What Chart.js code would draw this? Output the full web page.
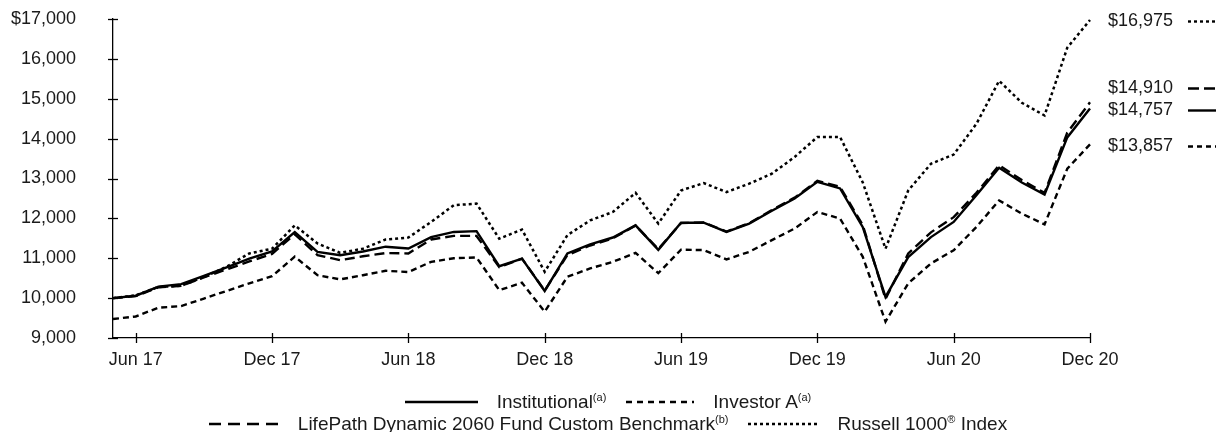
<!DOCTYPE html>
<html>
<head>
<meta charset="utf-8">
<script src="https://cdn.jsdelivr.net/npm/chart.js@4.4.1/dist/chart.umd.min.js"></script>
<style>
  html, body { margin: 0; padding: 0; background: #fff; }
  #wrap { position: relative; width: 1216px; height: 432px; overflow: hidden; }
  #c { position: absolute; left: 0; top: 0; }
  .legend { position: absolute; left: 0; width: 1216px; font-family: "Liberation Sans", Arial, sans-serif; font-size: 19px; color: #1a1a1a; }
  .row { display: flex; justify-content: center; align-items: center; height: 22px; white-space: nowrap; }
  .item { display: flex; align-items: center; }
  .item svg { margin-right: 19px; }
  .item + .item { margin-left: 20px; }
  sup { font-size: 11px; vertical-align: 7px; line-height: 0; }
</style>
</head>
<body>
<div id="wrap">
  <canvas id="c" width="1216" height="432"></canvas>
  <div class="legend" style="top:391px;">
    <div class="row">
      <div class="item"><svg width="73" height="6"><line x1="0" y1="3" x2="73" y2="3" stroke="#000" stroke-width="2.4"/></svg><span>Institutional<sup>(a)</sup></span></div>
      <div class="item"><svg width="68" height="6"><line x1="0" y1="3" x2="68" y2="3" stroke="#000" stroke-width="2.4" stroke-dasharray="6,5"/></svg><span>Investor A<sup>(a)</sup></span></div>
    </div>
    <div class="row">
      <div class="item"><svg width="70" height="6"><line x1="0" y1="3" x2="70" y2="3" stroke="#000" stroke-width="2.4" stroke-dasharray="12,7"/></svg><span>LifePath Dynamic 2060 Fund Custom Benchmark<sup>(b)</sup></span></div>
      <div class="item"><svg width="70" height="6"><line x1="0" y1="3" x2="70" y2="3" stroke="#000" stroke-width="2.4" stroke-dasharray="3,3"/></svg><span>Russell 1000<sup>®</sup> Index</span></div>
    </div>
  </div>
</div>
<script>
const months = ['May 17','Jun 17','Jul 17','Aug 17','Sep 17','Oct 17','Nov 17','Dec 17',
  'Jan 18','Feb 18','Mar 18','Apr 18','May 18','Jun 18','Jul 18','Aug 18','Sep 18','Oct 18','Nov 18','Dec 18',
  'Jan 19','Feb 19','Mar 19','Apr 19','May 19','Jun 19','Jul 19','Aug 19','Sep 19','Oct 19','Nov 19','Dec 19',
  'Jan 20','Feb 20','Mar 20','Apr 20','May 20','Jun 20','Jul 20','Aug 20','Sep 20','Oct 20','Nov 20','Dec 20'];

const institutional = [10000,10060,10290,10350,10560,10770,10990,11170,
  11658,11160,11075,11170,11290,11245,11530,11660,11680,10800,10990,10180,
  11120,11350,11520,11825,11210,11890,11890,11660,11870,12190,12500,12915,
  12750,11780,10030,11030,11530,11910,12580,13270,12900,12600,14030,14757];

const investorA = [9475,9540,9760,9800,9990,10180,10370,10550,
  11040,10575,10470,10575,10685,10655,10910,11000,11020,10200,10385,9660,
  10535,10745,10910,11135,10625,11215,11205,10970,11160,11455,11745,12160,
  11995,11035,9410,10370,10870,11200,11785,12450,12120,11850,13245,13857];

const benchmark = [10000,10050,10270,10310,10520,10720,10920,11110,
  11600,11080,10950,11050,11130,11120,11470,11560,11560,10780,10990,10190,
  11080,11320,11500,11820,11230,11880,11900,11670,11880,12210,12520,12940,
  12790,11830,9980,11120,11650,12030,12640,13330,12960,12640,14150,14910];

const russell = [10000,10070,10280,10310,10530,10790,11120,11240,
  11825,11370,11135,11240,11470,11520,11910,12330,12370,11490,11720,10660,
  11580,11950,12160,12640,11870,12700,12885,12660,12870,13120,13540,14040,
  14040,12900,11240,12700,13370,13600,14370,15450,14900,14580,16280,16975];

const yTicks = [9000,10000,11000,12000,13000,14000,15000,16000,17000];
const xTickMonths = ['Jun','Dec'];

const FONT = '"Liberation Sans", Arial, sans-serif';
const INK = '#1a1a1a';

const isShownTick = (lab) => xTickMonths.includes(lab.split(' ')[0]);

const tickMarks = {
  id: 'tickMarks',
  afterDraw(chart) {
    const ctx = chart.ctx, xs = chart.scales.x, ys = chart.scales.y;
    const L = chart.chartArea.left, B = chart.chartArea.bottom;
    ctx.save();
    ctx.strokeStyle = '#000';
    ctx.lineWidth = 1.3;
    ys.ticks.forEach((t, i) => {
      const py = Math.round(ys.getPixelForTick(i)) + 0.5;
      ctx.beginPath(); ctx.moveTo(L - 5, py); ctx.lineTo(L + 5, py); ctx.stroke();
    });
    months.forEach((m, i) => {
      if (!isShownTick(m)) return;
      const px = Math.round(xs.getPixelForValue(i)) + 0.5;
      ctx.beginPath(); ctx.moveTo(px, B - 5); ctx.lineTo(px, B + 5); ctx.stroke();
    });
    ctx.restore();
  }
};

const endLabels = {
  id: 'endLabels',
  afterDraw(chart) {
    const ctx = chart.ctx, ys = chart.scales.y;
    const items = chart.data.datasets.map(ds => {
      const v = ds.data[ds.data.length - 1];
      return { text: '$' + v.toLocaleString('en-US'), py: ys.getPixelForValue(v) + 1.5, dash: ds.sampleDash };
    }).sort((a, b) => a.py - b.py);
    for (let i = items.length - 2; i >= 0; i--) {
      if (items[i + 1].py - items[i].py < 22) items[i].py = items[i + 1].py - 22;
    }
    ctx.save();
    ctx.font = '18px ' + FONT;
    ctx.fillStyle = INK;
    ctx.textBaseline = 'middle';
    ctx.textAlign = 'left';
    const x0 = chart.chartArea.right + 18;
    items.forEach(it => {
      ctx.fillText(it.text, x0, it.py);
      ctx.beginPath();
      ctx.setLineDash(it.dash);
      ctx.strokeStyle = '#000';
      ctx.lineWidth = 2.4;
      ctx.moveTo(1188, Math.round(it.py) + 0.5);
      ctx.lineTo(1216, Math.round(it.py) + 0.5);
      ctx.stroke();
    });
    ctx.restore();
  }
};

const common = { fill: false, tension: 0, pointRadius: 0, pointHoverRadius: 0, borderColor: '#000', borderWidth: 2.4 };

new Chart(document.getElementById('c'), {
  type: 'line',
  data: {
    labels: months,
    datasets: [
      { ...common, label: 'Institutional', data: institutional, borderDash: [], sampleDash: [] },
      { ...common, label: 'LifePath Dynamic 2060 Fund Custom Benchmark', data: benchmark, borderDash: [10, 5], sampleDash: [11, 5] },
      { ...common, label: 'Investor A', data: investorA, borderDash: [6, 4], sampleDash: [5, 4] },
      { ...common, label: 'Russell 1000® Index', data: russell, borderDash: [3, 3], borderWidth: 2.5, sampleDash: [3, 3] }
    ]
  },
  options: {
    responsive: false,
    animation: false,
    layout: { padding: { left: 0, right: 126, top: 19, bottom: 58 } },
    plugins: { legend: { display: false }, tooltip: { enabled: false } },
    scales: {
      x: {
        type: 'category',
        grid: { display: false, drawTicks: false },
        border: { display: true, color: '#000', width: 1.3 },
        ticks: {
          autoSkip: false, maxRotation: 0, minRotation: 0, padding: 11,
          color: INK, font: { family: FONT, size: 18 },
          callback: function (v, i) { const lab = months[i]; return isShownTick(lab) ? lab : ''; }
        },
        afterFit: (s) => { s.height = 36; }
      },
      y: {
        min: 9000, max: 17000,
        grid: { display: false, drawTicks: true, tickLength: 37 },
        border: { display: true, color: '#000', width: 1.3 },
        afterBuildTicks: (s) => { s.ticks = yTicks.map(v => ({ value: v })); },
        ticks: {
          padding: 0, color: INK, font: { family: FONT, size: 18 },
          callback: (v) => (v === 17000 ? '$' : '') + Number(v).toLocaleString('en-US')
        },
        afterFit: (s) => { s.width = 113; }
      }
    }
  },
  plugins: [tickMarks, endLabels]
});
</script>
</body>
</html>
